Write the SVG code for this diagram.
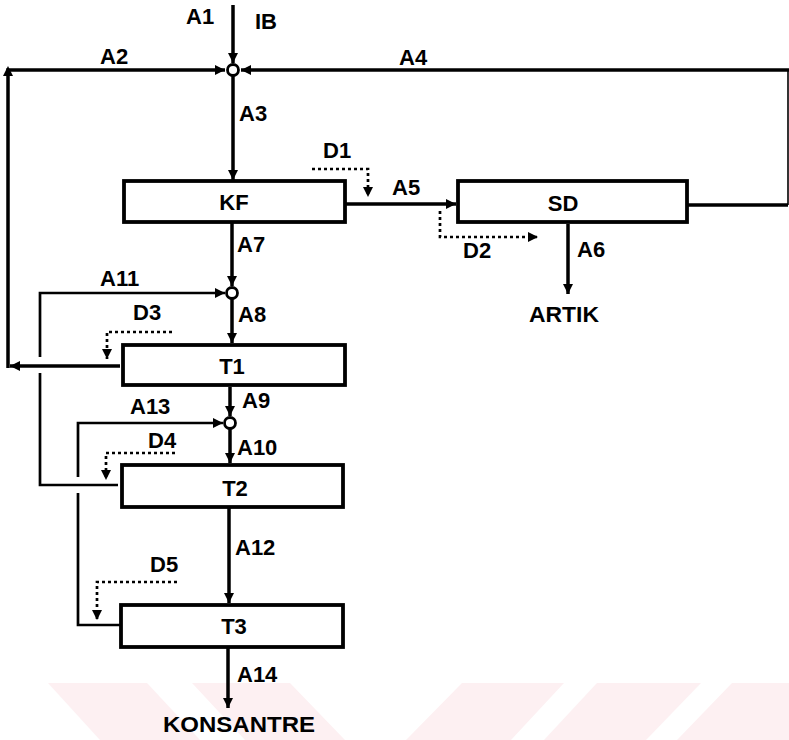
<svg xmlns="http://www.w3.org/2000/svg" width="789" height="740" viewBox="0 0 789 740">
<style>
.wm{fill:#fdf0f2;stroke:none}
.box{fill:#fff;stroke:#000;stroke-width:3.8}
.flow{fill:none;stroke:#000;stroke-width:3.5}
.thin{fill:none;stroke:#000;stroke-width:2.7}
.hair{fill:none;stroke:#000;stroke-width:1.6}
.dot{fill:none;stroke:#000;stroke-width:2.7;stroke-dasharray:3 3}
.jn{fill:#fff;stroke:#000;stroke-width:2.8}
text{font-family:"Liberation Sans",Arial,sans-serif;font-weight:bold;font-size:22px;fill:#000}
.c{text-anchor:middle}
</style>
<defs>
<marker id="ar" viewBox="0 0 10 10" refX="10" refY="5" markerWidth="10" markerHeight="10" markerUnits="userSpaceOnUse" orient="auto">
<path d="M0,0 L10,5 L0,10 z" fill="#000"/>
</marker>
</defs>
<rect width="789" height="740" fill="#fff"/>
<g id="watermark">
<polygon class="wm" points="48,683 147,683 200,740 100,740"/>
<polygon class="wm" points="192,683 290,683 345,740 245,740"/>
<polygon class="wm" points="462,683 564,683 511,740 406,740"/>
<polygon class="wm" points="597,683 701,683 646,740 544,740"/>
<polygon class="wm" points="732,683 789,683 789,740 677,740"/>
</g>
<g id="connectors">
<path class="flow" d="M233,5 V63" marker-end="url(#ar)"/>
<path class="flow" d="M120,366 H10" marker-end="url(#ar)"/>
<path class="flow" d="M8,368 V70 H225" marker-end="url(#ar)"/>
<polygon points="8,66 3,76 13,76" fill="#000"/>
<path class="flow" d="M789,70 H241" marker-end="url(#ar)"/>
<path class="hair" d="M788,70 V205"/>
<path class="flow" d="M687,205 H788"/>
<path class="flow" d="M233,76 V180" marker-end="url(#ar)"/>
<path class="flow" d="M345,204 H456" marker-end="url(#ar)"/>
<path class="dot" d="M312,169 H368 V197" marker-end="url(#ar)"/>
<path class="dot" d="M440,211 V237 H538" marker-end="url(#ar)"/>
<path class="flow" d="M568,224 V294" marker-end="url(#ar)"/>
<path class="flow" d="M232,223 V286" marker-end="url(#ar)"/>
<path class="flow" d="M232,299 V343" marker-end="url(#ar)"/>
<path class="thin" d="M118,485 H40 V373 M40,357 V293 H225" marker-end="url(#ar)"/>
<path class="flow" d="M230,387 V416" marker-end="url(#ar)"/>
<path class="thin" d="M120,625 H78 V493 M78,477 V423 H223" marker-end="url(#ar)"/>
<path class="flow" d="M230,429 V463" marker-end="url(#ar)"/>
<path class="flow" d="M229,508 V603" marker-end="url(#ar)"/>
<path class="dot" d="M172,332 H107 V359" marker-end="url(#ar)"/>
<path class="dot" d="M175,453 H106 V480" marker-end="url(#ar)"/>
<path class="dot" d="M177,582 H97 V620" marker-end="url(#ar)"/>
<path class="flow" d="M228,648 V708" marker-end="url(#ar)"/>
</g>
<g id="j1"><circle class="jn" cx="233" cy="70" r="5.5"/></g>
<g id="j2"><circle class="jn" cx="232" cy="293" r="5.5"/></g>
<g id="j3"><circle class="jn" cx="230" cy="423" r="5.5"/></g>
<g id="KF"><rect class="box" x="124" y="181" width="221" height="41"/><text class="c" x="234" y="210">KF</text></g>
<g id="SD"><rect class="box" x="458" y="181" width="229" height="41"/><text class="c" x="563" y="211">SD</text></g>
<g id="T1"><rect class="box" x="123" y="345" width="222" height="40"/><text class="c" x="232" y="374">T1</text></g>
<g id="T2"><rect class="box" x="122" y="465" width="221" height="42"/><text class="c" x="235" y="496">T2</text></g>
<g id="T3"><rect class="box" x="121" y="605" width="222" height="42"/><text class="c" x="234" y="634">T3</text></g>
<g id="labels">
<text x="186" y="24">A1</text>
<text x="255" y="29">IB</text>
<text x="100" y="64">A2</text>
<text x="399" y="65">A4</text>
<text x="239" y="121">A3</text>
<text x="323" y="158">D1</text>
<text x="392" y="195">A5</text>
<text x="463" y="258">D2</text>
<text x="577" y="257">A6</text>
<text x="529" y="322" textLength="70" lengthAdjust="spacingAndGlyphs">ARTIK</text>
<text x="237" y="252">A7</text>
<text x="100" y="286">A11</text>
<text x="133" y="320">D3</text>
<text x="238" y="322">A8</text>
<text x="242" y="408">A9</text>
<text x="130" y="414">A13</text>
<text x="148" y="448">D4</text>
<text x="237" y="455">A10</text>
<text x="235" y="555">A12</text>
<text x="150" y="572">D5</text>
<text x="237" y="682">A14</text>
<text x="163" y="732" textLength="152" lengthAdjust="spacingAndGlyphs">KONSANTRE</text>
</g>
</svg>
